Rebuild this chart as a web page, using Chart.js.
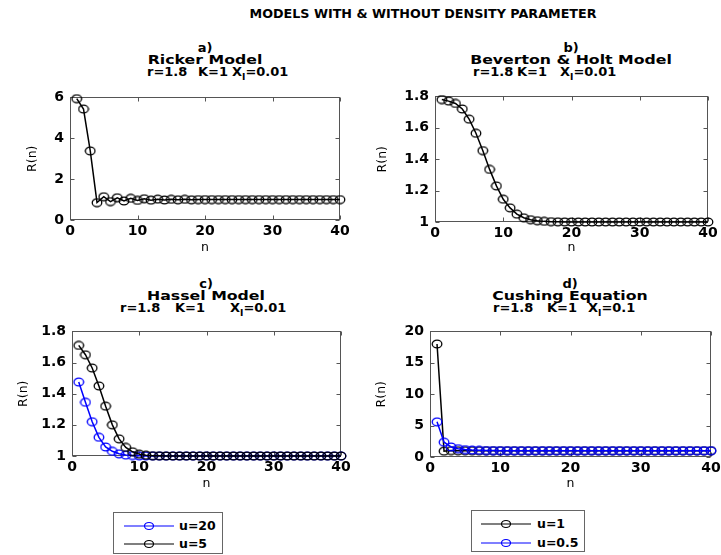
<!DOCTYPE html>
<html><head><meta charset="utf-8">
<script src="https://cdn.jsdelivr.net/npm/chart.js@4/dist/chart.umd.min.js"></script>
<style>
html,body{margin:0;padding:0;background:#fff;}
body{width:721px;height:555px;overflow:hidden;position:relative;font-family:"DejaVu Sans",sans-serif;color:#000;}
canvas{position:absolute;}
.tl{position:absolute;font:bold 13px "DejaVu Sans";line-height:12px;white-space:nowrap;transform:translateX(-50%);}
.tl.w{transform:translateX(-50%) scaleX(1.21);}
.pl{position:absolute;font:bold 13px "DejaVu Sans";line-height:12px;white-space:nowrap;}
.pl sub{font-size:9px;vertical-align:-4px;line-height:0;}
.main{position:absolute;font:bold 12px "DejaVu Sans";line-height:12px;white-space:nowrap;transform:translateX(-50%) scaleX(1.06);}
.lg{position:absolute;border:1px solid #666;background:#fff;box-sizing:border-box;}
.lg svg{position:absolute;left:0;top:0;}
.lg span{position:absolute;font:bold 12.5px "DejaVu Sans";line-height:16px;white-space:nowrap;}
</style></head>
<body>
<div class="main" style="left:423px;top:8px">MODELS WITH &amp; WITHOUT DENSITY PARAMETER</div>

<div class="tl" style="left:205px;top:42px">a)</div>
<div class="tl w" style="left:205px;top:54px">Ricker Model</div>
<div class="pl" style="left:147px;top:66px">r=1.8</div>
<div class="pl" style="left:198px;top:66px">K=1</div>
<div class="pl" style="left:232px;top:66px">X<sub>I</sub>=0.01</div>

<div class="tl" style="left:571px;top:42px">b)</div>
<div class="tl w" style="left:571px;top:54px">Beverton &amp; Holt Model</div>
<div class="pl" style="left:473px;top:66px">r=1.8</div>
<div class="pl" style="left:517px;top:66px">K=1</div>
<div class="pl" style="left:560px;top:66px">X<sub>I</sub>=0.01</div>

<div class="tl" style="left:206px;top:278px">c)</div>
<div class="tl w" style="left:206px;top:290px">Hassel Model</div>
<div class="pl" style="left:120px;top:302px">r=1.8</div>
<div class="pl" style="left:175px;top:302px">K=1</div>
<div class="pl" style="left:230px;top:302px">X<sub>I</sub>=0.01</div>

<div class="tl" style="left:570px;top:278px">d)</div>
<div class="tl w" style="left:570px;top:290px">Cushing Equation</div>
<div class="pl" style="left:493px;top:302px">r=1.8</div>
<div class="pl" style="left:547px;top:302px">K=1</div>
<div class="pl" style="left:588px;top:302px">X<sub>I</sub>=0.1</div>

<canvas id="ca" width="329" height="172" style="left:25px;top:83px"></canvas>
<canvas id="cb" width="347" height="173" style="left:375px;top:82px"></canvas>
<canvas id="cc" width="339" height="174" style="left:16px;top:317px"></canvas>
<canvas id="cd" width="351" height="174" style="left:374px;top:317px"></canvas>

<div class="lg" style="left:113px;top:512px;width:110px;height:42px">
  <svg width="110" height="42">
    <line x1="10" y1="13" x2="60" y2="13" stroke="#0000ff" stroke-width="1.2"/>
    <ellipse cx="35" cy="13" rx="4.5" ry="3.5" fill="none" stroke="#0000ff" stroke-width="1.2"/>
    <line x1="10" y1="31" x2="60" y2="31" stroke="#000" stroke-width="1.2"/>
    <ellipse cx="35" cy="31" rx="4.5" ry="3.5" fill="none" stroke="#000" stroke-width="1.2"/>
  </svg>
  <span style="left:65px;top:5px">u=20</span>
  <span style="left:65px;top:23px">u=5</span>
</div>
<div class="lg" style="left:471px;top:510px;width:114px;height:42px">
  <svg width="114" height="42">
    <line x1="9" y1="13" x2="59" y2="13" stroke="#000" stroke-width="1.2"/>
    <ellipse cx="34" cy="13" rx="4.5" ry="3.5" fill="none" stroke="#000" stroke-width="1.2"/>
    <line x1="9" y1="32" x2="59" y2="32" stroke="#0000ff" stroke-width="1.2"/>
    <ellipse cx="34" cy="32" rx="4.5" ry="3.5" fill="none" stroke="#0000ff" stroke-width="1.2"/>
  </svg>
  <span style="left:65px;top:5px">u=1</span>
  <span style="left:65px;top:24px">u=0.5</span>
</div>

<script>
// ---- data ----
const nSteps = [1,2,3,4,5,6,7,8,9,10,11,12,13,14,15,16,17,18,19,20,21,22,23,24,25,26,27,28,29,30,31,32,33,34,35,36,37,38,39,40];
const xTicks = [0,10,20,30,40];

const rickerR = [5.94,5.43,3.38,0.85,1.14,0.90,1.09,0.93,1.06,0.96,1.04,0.97,1.02,0.98,1.01,0.99,1.01,0.99,1.00,1.00,
                 1.00,1.00,1.00,1.00,1.00,1.00,1.00,1.00,1.00,1.00,1.00,1.00,1.00,1.00,1.00,1.00,1.00,1.00,1.00,1.00];
const bevHoltR = [1.78,1.77,1.755,1.72,1.655,1.565,1.455,1.335,1.23,1.145,1.09,1.05,1.027,1.015,1.008,1.004,1.002,1.001,1.0005,1.0,
                  1.0,1.0,1.0,1.0,1.0,1.0,1.0,1.0,1.0,1.0,1.0,1.0,1.0,1.0,1.0,1.0,1.0,1.0,1.0,1.0];
const hasselU20 = [1.475,1.345,1.22,1.12,1.058,1.03,1.014,1.006,1.003,1.001,1.0005,1.0,1.0,1.0,1.0,1.0,1.0,1.0,1.0,1.0,
                   1.0,1.0,1.0,1.0,1.0,1.0,1.0,1.0,1.0,1.0,1.0,1.0,1.0,1.0,1.0,1.0,1.0,1.0,1.0,1.0];
const hasselU5 = [1.71,1.65,1.565,1.45,1.32,1.20,1.11,1.055,1.027,1.012,1.005,1.002,1.001,1.0,1.0,1.0,1.0,1.0,1.0,1.0,
                  1.0,1.0,1.0,1.0,1.0,1.0,1.0,1.0,1.0,1.0,1.0,1.0,1.0,1.0,1.0,1.0,1.0,1.0,1.0,1.0];
const cushingU1 = [18.0,0.93,1.02,1.0,1.0,1.0,1.0,1.0,1.0,1.0,1.0,1.0,1.0,1.0,1.0,1.0,1.0,1.0,1.0,1.0,
                   1.0,1.0,1.0,1.0,1.0,1.0,1.0,1.0,1.0,1.0,1.0,1.0,1.0,1.0,1.0,1.0,1.0,1.0,1.0,1.0];
const cushingU05 = [5.6,2.35,1.6,1.33,1.18,1.10,1.06,1.035,1.02,1.012,1.007,1.004,1.002,1.001,1.0,1.0,1.0,1.0,1.0,1.0,
                    1.0,1.0,1.0,1.0,1.0,1.0,1.0,1.0,1.0,1.0,1.0,1.0,1.0,1.0,1.0,1.0,1.0,1.0,1.0,1.0];
const yTicksA = [0,2,4,6];
const yTicksB = [1,1.2,1.4,1.6,1.8];
const yTicksC = [1,1.2,1.4,1.6,1.8];
const yTicksD = [0,5,10,15,20];

// ---- helpers ----
function marker(color){
  const c = document.createElement('canvas');
  c.width = 12; c.height = 10;
  const g = c.getContext('2d');
  g.strokeStyle = color; g.lineWidth = 1.3;
  g.beginPath(); g.ellipse(6,5,4.8,3.9,0,0,Math.PI*2); g.stroke();
  return c;
}
const mkBlack = marker('#000');
const mkBlue = marker('#0000ff');

const boxTicks = {
  id:'boxTicks',
  beforeDatasetsDraw(chart){
    const {ctx, chartArea:a, scales:{x,y}} = chart;
    ctx.save();
    ctx.strokeStyle = '#555'; ctx.lineWidth = 1;
    const L = Math.round(a.left)+0.5, R = Math.round(a.right)-0.5, T = Math.round(a.top)+0.5, B = Math.round(a.bottom)-0.5;
    ctx.strokeRect(L, T, R-L, B-T);
    ctx.beginPath();
    x.ticks.forEach(t=>{ const px = Math.round(x.getPixelForValue(t.value))+0.5;
      ctx.moveTo(px,B); ctx.lineTo(px,B-4); ctx.moveTo(px,T); ctx.lineTo(px,T+4); });
    y.ticks.forEach(t=>{ const py = Math.round(y.getPixelForValue(t.value))+0.5;
      ctx.moveTo(L,py); ctx.lineTo(L+4,py); ctx.moveTo(R,py); ctx.lineTo(R-4,py); });
    ctx.stroke();
    ctx.restore();
  }
};

function ds(label, vals, color, mk, order){
  return {label, data: nSteps.map((v,i)=>({x:v, y:vals[i]})), borderColor: color, borderWidth: 1.5,
    pointStyle: mk, pointRadius: 5, pointBorderColor: color, pointBackgroundColor:'rgba(0,0,0,0)',
    tension: 0, clip: false, order};
}

function makeChart(id, datasets, yMin, yMax, yTickVals, yW, xH){
  const tickFont = {family:'DejaVu Sans', size:14, weight:'bold'};
  const titleFont = {family:'DejaVu Sans', size:12.5};
  return new Chart(document.getElementById(id), {
    type:'line',
    data:{datasets},
    options:{
      responsive:false, animation:false, devicePixelRatio:1,
      layout:{padding:{top:10, right:14, left:0, bottom:0}},
      plugins:{legend:{display:false}, title:{display:false}, tooltip:{enabled:false}},
      scales:{
        x:{type:'linear', min:xTicks[0], max:xTicks[xTicks.length-1],
           afterBuildTicks(s){ s.ticks = xTicks.map(v=>({value:v})); },
           ticks:{padding:3, color:'#000', font:tickFont, maxRotation:0, autoSkip:false},
           grid:{display:false, drawTicks:false}, border:{display:false},
           title:{display:true, text:'n', padding:0, color:'#000', font:titleFont},
           afterFit(s){ s.height = xH; }},
        y:{type:'linear', min:yMin, max:yMax,
           afterBuildTicks(s){ s.ticks = yTickVals.map(v=>({value:v})); },
           ticks:{padding:6, color:'#000', font:tickFont, autoSkip:false, callback:v=>String(+(+v).toFixed(2))},
           grid:{display:false, drawTicks:false}, border:{display:false},
           title:{display:true, text:'R(n)', padding:0, color:'#000', font:titleFont},
           afterFit(s){ s.width = yW; }}
      }
    },
    plugins:[boxTicks]
  });
}

makeChart('ca', [ds('Ricker', rickerR, '#000', mkBlack, 0)], 0, 6, yTicksA, 45, 35);
makeChart('cb', [ds('Beverton & Holt', bevHoltR, '#000', mkBlack, 0)], 1, 1.8, yTicksB, 60, 33);
makeChart('cc', [ds('u=20', hasselU20, '#0000ff', mkBlue, 1), ds('u=5', hasselU5, '#000', mkBlack, 0)], 1, 1.8, yTicksC, 56, 35);
makeChart('cd', [ds('u=1', cushingU1, '#000', mkBlack, 1), ds('u=0.5', cushingU05, '#0000ff', mkBlue, 0)], 0, 20, yTicksD, 56, 34);
</script>
</body></html>
